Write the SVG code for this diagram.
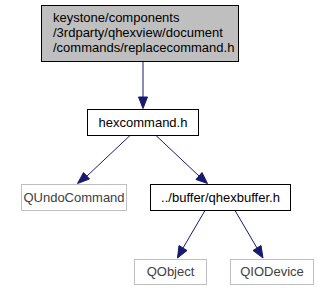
<svg xmlns="http://www.w3.org/2000/svg" width="318" height="291" viewBox="0 0 318 291">
<defs>
<style>
text{font-family:"Liberation Sans",Arial,sans-serif;font-size:13px;fill:#000}
.n rect{fill:#fff;stroke:#000;stroke-width:1}
.g rect{fill:#fff;stroke:#bfbfbf;stroke-width:1}
.g text{fill:#404040}
.e path{fill:none;stroke:#191970;stroke-width:1}
.e polygon{fill:#191970;stroke:#191970}
</style>
</defs>
<rect width="318" height="291" fill="#fff"/>
<g class="e" id="edges">
<path d="M143,61.5V98"/><polygon points="138.5,97 143,108.5 147.5,97"/>
<path d="M130,135.5L87,176"/><polygon points="83.5,172.5 77.5,183.5 89.5,179"/>
<path d="M156,135.5L199,176"/><polygon points="196,179.5 207.5,183.5 202,172.5"/>
<path d="M205,210.5L183,248"/><polygon points="179,245.5 177.5,258 187,250.5"/>
<path d="M235,210.5L257,248"/><polygon points="253,250.5 263,258 261,245.5"/>
</g>
<g class="n" id="replacecommand">
<rect x="41.5" y="5.5" width="197" height="56" style="fill:#bfbfbf"/>
<text x="53" y="22">keystone/components</text>
<text x="53" y="37">/3rdparty/qhexview/document</text>
<text x="53" y="52">/commands/replacecommand.h</text>
</g>
<g class="n" id="hexcommand">
<rect x="87.5" y="109.5" width="111" height="26"/>
<text x="143" y="127" text-anchor="middle">hexcommand.h</text>
</g>
<g class="g" id="qundocommand">
<rect x="21.5" y="184.5" width="105" height="26"/>
<text x="74" y="202" text-anchor="middle">QUndoCommand</text>
</g>
<g class="n" id="qhexbuffer">
<rect x="150.5" y="184.5" width="140" height="26"/>
<text x="220.5" y="202" text-anchor="middle">../buffer/qhexbuffer.h</text>
</g>
<g class="g" id="qobject">
<rect x="134.5" y="259.5" width="72" height="25"/>
<text x="170.5" y="276" text-anchor="middle">QObject</text>
</g>
<g class="g" id="qiodevice">
<rect x="230.5" y="259.5" width="83" height="25"/>
<text x="272" y="276" text-anchor="middle">QIODevice</text>
</g>
</svg>
